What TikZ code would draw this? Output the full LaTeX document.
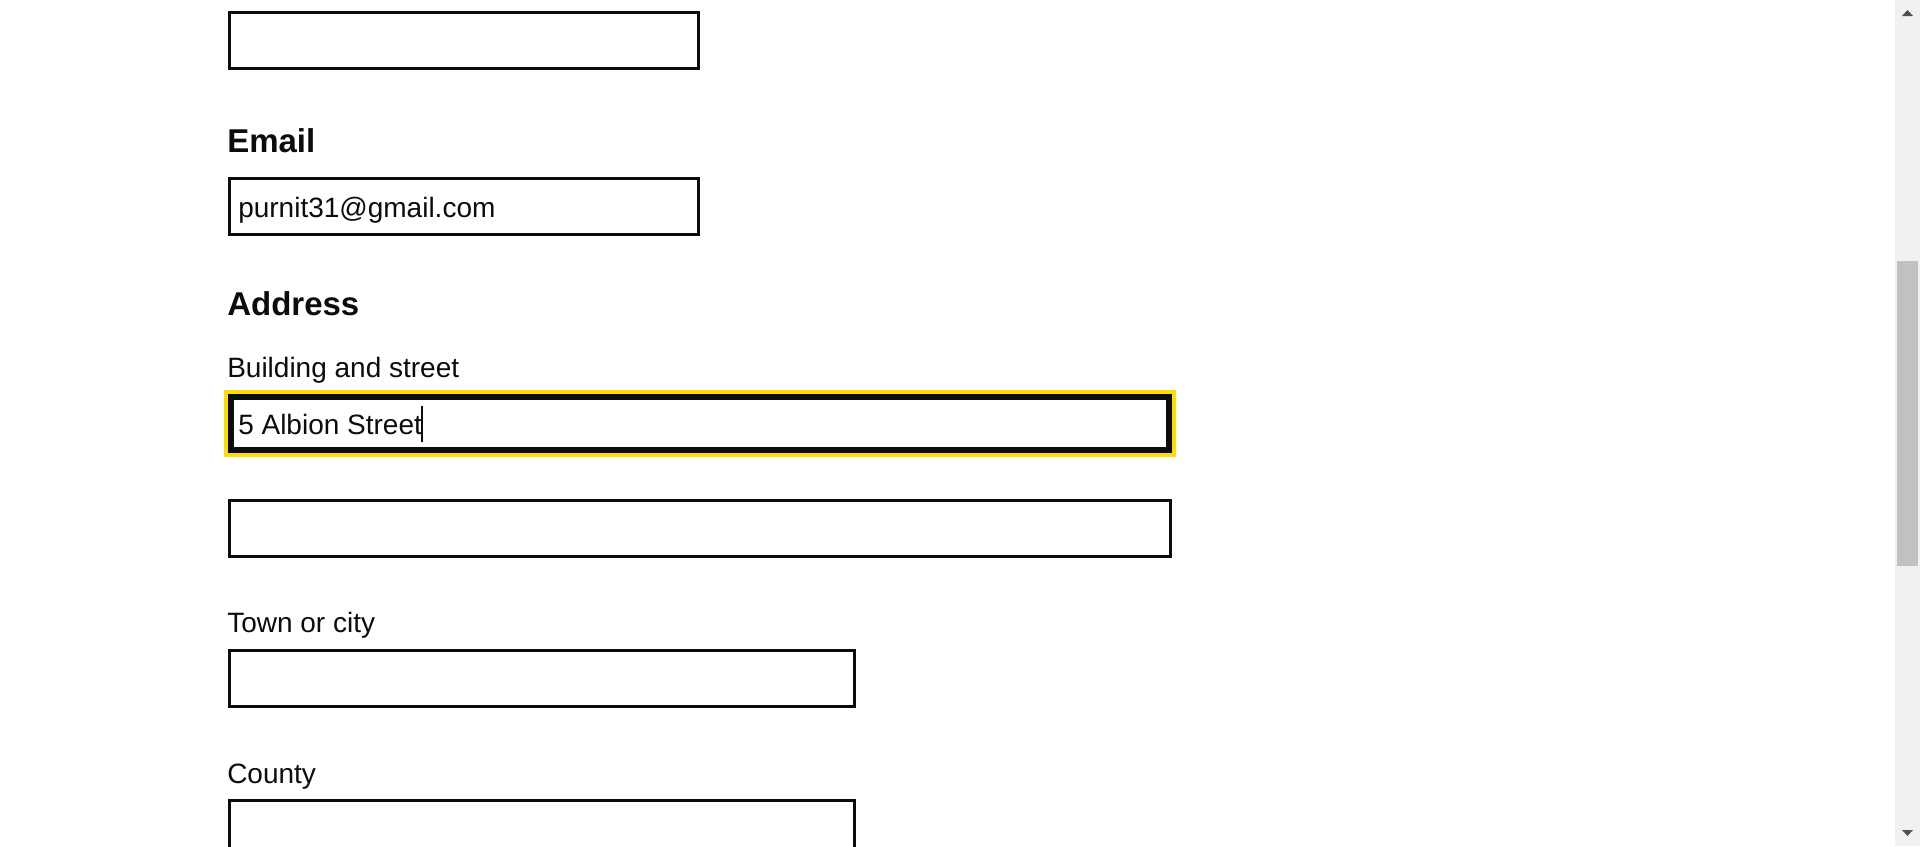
\documentclass[tikz,border=0pt]{standalone}
\usepackage{fontspec}
\setmainfont{Liberation Sans}
\definecolor{govblack}{HTML}{0B0C0C}
\definecolor{focusyellow}{HTML}{FFDD00}
\definecolor{scrolltrack}{HTML}{F1F1F1}
\definecolor{scrollthumb}{HTML}{C1C1C1}
\definecolor{scrollarrow}{HTML}{505050}
\tikzset{
inputbox/.style={draw=govblack, fill=white, line width=2.25pt, inner sep=0pt, minimum height=42pt},
focusbox/.style={draw=govblack, fill=white, line width=4.5pt, inner sep=0pt, minimum height=39.75pt,
  preaction={draw=focusyellow, line width=10.5pt}},
headingtext/.style={anchor=base west, inner sep=0pt, text=govblack, font=\fontsize{24.75}{30}\selectfont\bfseries},
labeltext/.style={anchor=base west, inner sep=0pt, text=govblack, font=\fontsize{21}{25}\selectfont},
fieldtext/.style={labeltext}
}
\begin{document}
\begin{tikzpicture}[x=0.75pt, y=-0.75pt]
\useasboundingbox (0,0) rectangle (1920,846);
\clip (0,0) rectangle (1920,846);
\fill[white] (0,0) rectangle (1920,846);
\node[inputbox, minimum width=351.75pt] (phone) at (464,40.5) {};
\node[headingtext] (emailhead) at (227,152) {Email};
\node[inputbox, minimum width=351.75pt] (email) at (464,206.5) {};
\node[fieldtext] (emailtext) at (238,217) {purnit31@gmail.com};
\node[headingtext] (addresshead) at (227,315) {Address};
\node[labeltext] (streetlabel) at (227,377) {Building and street};
\node[focusbox, minimum width=703.5pt] (street) at (700,423.5) {};
\node[fieldtext] (streettext) at (238,434) {5 Albion Street};
\draw[govblack, line width=1.1pt] (422,406) -- (422,442);
\node[inputbox, minimum width=705.75pt] (street2) at (700,528.5) {};
\node[labeltext] (townlabel) at (227,632) {Town or city};
\node[inputbox, minimum width=468.75pt] (town) at (542,678.5) {};
\node[labeltext] (countylabel) at (227,783) {County};
\node[inputbox, minimum width=468.75pt] (county) at (542,828.5) {};
\fill[scrolltrack] (1895,0) rectangle (1920,846);
\fill[scrollthumb] (1897,261) rectangle (1918,566);
\fill[scrollarrow] (1902,16) -- (1913,16) -- (1907.5,10) -- cycle;
\fill[scrollarrow] (1902,830) -- (1913,830) -- (1907.5,836) -- cycle;
\end{tikzpicture}
\end{document}
